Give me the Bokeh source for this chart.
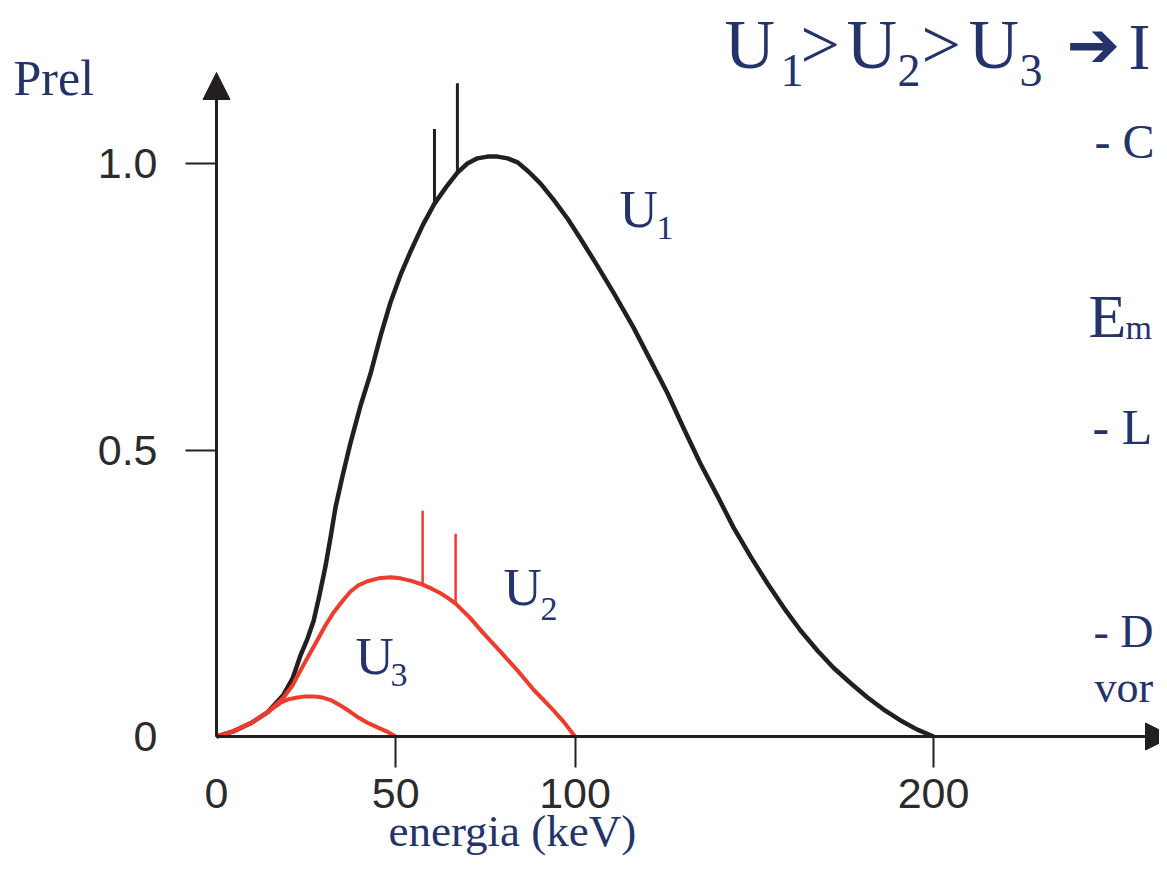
from bokeh.plotting import figure
from bokeh.models import Range1d, FixedTicker, Label, Arrow, NormalHead
from bokeh.embed import file_html
from bokeh.resources import INLINE

# ---------------- data ----------------
# U1 continuum (black): energy in keV, relative intensity
u1_kev = [0, 4.7, 9.5, 14.2, 18.7, 21.2, 23.4, 25.4, 27.1, 28.7, 30.4, 31.8,
          33.2, 35.2, 37.4, 40.2, 43.0, 45.8, 48.5, 51.3, 54.1, 57.5, 60.8,
          64.2, 67.2, 70.0, 72.8, 75.6, 78.4, 81.2, 84.0, 87.0, 90.4, 94.0,
          97.9, 101.5, 105.7, 110.7, 116.3, 121.1, 125.8, 130.3, 135.0,
          139.8, 144.2, 149.0, 153.7, 158.2, 162.9, 167.6, 172.1, 176.9,
          181.6, 186.1, 190.8, 195.5, 200]
u1_val = [0, 0.009, 0.023, 0.042, 0.073, 0.101, 0.141, 0.171, 0.202, 0.246,
          0.297, 0.347, 0.4, 0.456, 0.513, 0.578, 0.634, 0.7, 0.757, 0.805,
          0.846, 0.892, 0.93, 0.96, 0.984, 1.0, 1.009, 1.012, 1.012, 1.009,
          1.002, 0.986, 0.965, 0.937, 0.904, 0.869, 0.827, 0.775, 0.714,
          0.656, 0.599, 0.538, 0.476, 0.419, 0.365, 0.314, 0.267, 0.225,
          0.185, 0.15, 0.12, 0.093, 0.068, 0.047, 0.028, 0.012, 0]
# U1 characteristic lines
u1_line_kev = [60.8, 67.2]
u1_line_base = [0.93, 0.984]
u1_line_top = [1.06, 1.14]

# U2 continuum (red)
u2_kev = [0, 4.7, 9.5, 14.2, 18.7, 21.2, 23.4, 25.7, 28.2, 30.4, 32.6, 35.2,
          37.4, 39.6, 42.1, 45.2, 48.5, 51.3, 54.1, 57.5, 60.0, 62.5, 64.7,
          66.7, 70.6, 74.5, 79.2, 84.0, 88.4, 93.2, 96.8, 100]
u2_val = [0, 0.009, 0.023, 0.042, 0.068, 0.089, 0.115, 0.141, 0.169, 0.194,
          0.216, 0.237, 0.253, 0.264, 0.271, 0.276, 0.278, 0.276, 0.272,
          0.265, 0.258, 0.25, 0.241, 0.232, 0.208, 0.18, 0.148, 0.115, 0.082,
          0.051, 0.026, 0]
u2_line_kev = [57.5, 66.7]
u2_line_base = [0.265, 0.232]
u2_line_top = [0.394, 0.354]

# U3 continuum (red)
u3_kev = [0, 4.7, 9.5, 14.2, 17.9, 20.1, 22.6, 24.8, 27.1, 29.6, 32.1, 34.6,
          37.1, 39.6, 42.1, 44.9, 47.4, 50]
u3_val = [0, 0.009, 0.023, 0.042, 0.059, 0.065, 0.068, 0.07, 0.07, 0.068,
          0.063, 0.054, 0.044, 0.033, 0.024, 0.016, 0.009, 0]

x_ticks = [0, 50, 100, 200]
y_ticks = [0, 0.5, 1.0]
y_tick_labels = {0: "0", 0.5: "0.5", 1: "1.0"}

# ---------------- layout helpers (picture pixels -> data) ----------------
PX_PER_KEV = 3.585
PX_PER_UNIT = 573.0
X0 = 216
Y0 = 736


def dx(px):
    return (px - X0) / PX_PER_KEV


def dy(py):
    return (Y0 - py) / PX_PER_UNIT


W, H = 1159, 858

p = figure(width=W, height=H, output_backend="svg", toolbar_location=None,
           x_range=Range1d(dx(0), dx(W)), y_range=Range1d(dy(H), dy(0)),
           min_border=0)
p.outline_line_color = None
p.xgrid.visible = False
p.ygrid.visible = False
p.background_fill_color = "white"
p.border_fill_color = "white"

AX = "#231f20"
BLACK = "#231f20"
RED = "#ef3b2c"
NAVY = "#24346a"

for ax in (p.xaxis[0], p.yaxis[0]):
    ax.fixed_location = 0
    ax.axis_line_color = AX
    ax.axis_line_width = 3
    ax.major_tick_out = 0
    ax.major_tick_in = 0
    ax.minor_tick_in = 0
    ax.minor_tick_out = 31
    ax.minor_tick_line_color = AX
    ax.minor_tick_line_width = 2
    ax.major_label_text_font = "Liberation Sans"
    ax.major_label_text_font_size = "43px"
    ax.major_label_text_color = "#2b2b2b"

p.xaxis.ticker = FixedTicker(ticks=x_ticks, minor_ticks=[t for t in x_ticks if t > 0])
p.yaxis.ticker = FixedTicker(ticks=y_ticks, minor_ticks=[t for t in y_ticks if t > 0])
p.yaxis.major_label_overrides = y_tick_labels
p.xaxis.major_label_standoff = 11
p.yaxis.major_label_standoff = 28
p.xaxis.bounds = (0, 258)
p.yaxis.bounds = (0, 1.12)

# axis arrows
p.add_layout(Arrow(x_start=0, y_start=0, x_end=0, y_end=dy(72),
                   line_color=AX, line_width=3,
                   end=NormalHead(size=27, fill_color=AX, line_color=AX)))
p.add_layout(Arrow(x_start=0, y_start=0, x_end=dx(1172), y_end=0,
                   line_color=AX, line_width=3,
                   end=NormalHead(size=27, fill_color=AX, line_color=AX)))

# curves
p.line(u1_kev, u1_val, line_color=BLACK, line_width=4.5, line_join="round")
p.segment(x0=u1_line_kev, y0=u1_line_base, x1=u1_line_kev, y1=u1_line_top,
          line_color=BLACK, line_width=3)
p.line(u3_kev, u3_val, line_color=RED, line_width=4, line_join="round")
p.line(u2_kev, u2_val, line_color=RED, line_width=4, line_join="round")
p.segment(x0=u2_line_kev, y0=u2_line_base, x1=u2_line_kev, y1=u2_line_top,
          line_color=RED, line_width=2.5)


def txt(s, px, base_py, size, font="Liberation Serif", color=NAVY):
    # Label places the text about 0.4 em below the anchor: compensate
    p.add_layout(Label(x=dx(px), y=dy(base_py - 0.4 * size), text=s,
                       text_font=font, text_font_size=f"{size}px",
                       text_color=color, text_align="left",
                       text_baseline="alphabetic"))


# axis titles
txt("Prel", 13, 97, 50)
txt("energia (keV)", 388, 848, 45)

# curve labels
txt("U", 619, 230, 53)
txt("1", 656, 241, 34)
txt("U", 503, 608, 53)
txt("2", 540, 622, 34)
txt("U", 355, 677, 53)
txt("3", 390, 688, 34)

# heading of the slide
txt("U", 724, 72, 70)
txt("1", 780, 88, 46)
txt(">", 800, 72, 70)
txt("U", 846, 72, 70)
txt("2", 897, 88, 46)
txt(">", 921, 72, 70)
txt("U", 968, 72, 70)
txt("3", 1019, 88, 46)
txt("\u2794", 1066, 70, 64, font="DejaVu Sans")
txt("I", 1128, 72, 66)

# slide text at the right edge (kept inside the picture)
txt("- C", 1094, 160, 48)
txt("E", 1088, 340, 62)
txt("m", 1125, 341, 34)
txt("- L", 1092, 446, 50)
txt("- D", 1093, 649, 46)
txt("vor", 1094, 705, 44)

open("out.html", "w").write(file_html(p, INLINE))
